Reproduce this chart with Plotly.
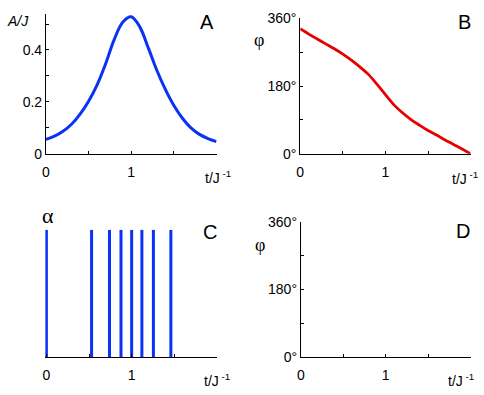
import plotly.graph_objects as go

# time axis, units of 1/J
t = [0.0, 0.1, 0.2, 0.3, 0.4, 0.5, 0.6, 0.7, 0.8, 0.9, 1.0,
     1.1, 1.2, 1.3, 1.4, 1.5, 1.6, 1.7, 1.8, 1.9, 2.0]

# panel A: amplitude A/J
amp = [0.056, 0.068, 0.087, 0.114, 0.153, 0.203, 0.266, 0.347, 0.440, 0.507, 0.528,
       0.489, 0.408, 0.322, 0.248, 0.186, 0.137, 0.100, 0.075, 0.059, 0.047]

# panel B: phase in degrees
phase = [332, 318, 305, 292, 279, 265, 249, 231, 211, 185, 157,
         130, 109, 91, 76, 62, 50, 37, 25, 13, 0]

# panel C: pulse times
pulses = [0.0, 0.53, 0.74, 0.875, 1.0, 1.12, 1.255, 1.46]

W, H = 484, 395
BLUE = "#0a32f5"
RED = "#e60000"
FONT = "Liberation Sans, Arial, sans-serif"
SERIF = "Liberation Serif, Times New Roman, serif"


def px_x(a, b):
    return [a / W, b / W]


def px_y(bottom, top):
    return [1 - bottom / H, 1 - top / H]


px, py = [], []
for p in pulses:
    px += [p, p, None]
    py += [0, 1, None]

fig = go.Figure()
fig.add_trace(go.Scatter(x=t, y=amp, mode="lines", line=dict(color=BLUE, width=3, shape="spline"),
                         xaxis="x", yaxis="y"))
fig.add_trace(go.Scatter(x=t, y=phase, mode="lines", line=dict(color=RED, width=2.8, shape="spline"),
                         xaxis="x2", yaxis="y2"))
fig.add_trace(go.Scatter(x=px, y=py, mode="lines", line=dict(color=BLUE, width=3),
                         xaxis="x3", yaxis="y3"))
fig.add_trace(go.Scatter(x=[None], y=[None], mode="lines", xaxis="x4", yaxis="y4"))

tickfont = dict(family=FONT, size=14, color="black")
common = dict(showline=True, linecolor="black", linewidth=1, ticks="inside", ticklen=3,
              tickcolor="black", showgrid=False, zeroline=False, tickfont=tickfont)
minor = lambda vals: dict(tickvals=vals, ticks="inside", ticklen=3, tickcolor="black", showgrid=False)
xt = dict(tickvals=[0, 1], ticktext=["0", "1"], range=[0, 2], minor=minor([0.5, 1.5, 2]),
          ticklabelstandoff=5)
deg = dict(range=[0, 360], tickvals=[0, 180, 360], ticktext=["0°", "180°", "360°"],
           minor=minor([90, 270]))

fig.update_layout(
    width=W, height=H, margin=dict(l=0, r=0, t=0, b=0),
    paper_bgcolor="white", plot_bgcolor="white", showlegend=False,
    xaxis=dict(domain=px_x(42.3, 214.3), anchor="y", **xt, **common),
    yaxis=dict(domain=px_y(152, 6.7), anchor="x", range=[0, 0.537],
               tickvals=[0, 0.2, 0.4], ticktext=["0", "0.2", "0.4"], minor=minor([0.1, 0.3, 0.5]),
               **common),
    xaxis2=dict(domain=px_x(298.7, 470.5), anchor="y2", **xt, **common),
    yaxis2=dict(domain=px_y(152, 10.7), anchor="x2", **deg, **common),
    xaxis3=dict(domain=px_x(41.7, 214.7), anchor="y3", **{**xt, "range": [-0.012, 2]}, **common),
    yaxis3=dict(domain=px_y(364, 231), anchor="x3", range=[0, 1], visible=False),
    xaxis4=dict(domain=px_x(299.3, 470.5), anchor="y4", **xt, **common),
    yaxis4=dict(domain=px_y(364, 222.7), anchor="x4", **deg, **common),
)

notes = [
    (205, 15, "A", FONT, 20), (464, 15, "B", FONT, 20),
    (208, 233, "C", FONT, 20), (463, 232, "D", FONT, 20),
    (14, 14, "<i>A/J</i>", FONT, 14),
    (257, 33, "φ", SERIF, 18), (258, 247, "φ", SERIF, 18),
    (44, 216, "α", SERIF, 22),
    (216, 176, "t/J<sup> -1</sup>", FONT, 14), (465, 177, "t/J<sup> -1</sup>", FONT, 14),
    (215, 388, "t/J<sup> -1</sup>", FONT, 14), (461, 388, "t/J<sup> -1</sup>", FONT, 14),
]
for x, y, txt, fam, size in notes:
    fig.add_annotation(x=x / W, y=1 - y / H, xref="paper", yref="paper", text=txt,
                       showarrow=False, xanchor="center", yanchor="middle",
                       font=dict(family=fam, size=size, color="black"))

# drop the browser's default page margin and scrollbars so the figure sits at the window corner
page_css = ("document.body.style.margin='0';"
            "document.body.style.overflow='hidden';"
            "document.documentElement.style.overflow='hidden';")
fig.write_html("out.html", config={"displayModeBar": False}, post_script=page_css)
